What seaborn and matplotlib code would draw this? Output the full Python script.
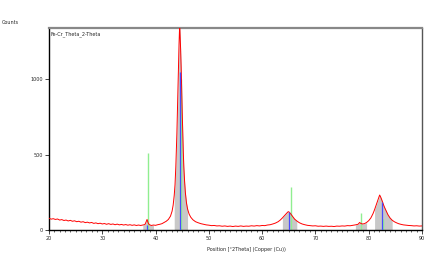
import numpy as np
import pandas as pd
import matplotlib
matplotlib.use("Agg")
import matplotlib.pyplot as plt
from matplotlib.ticker import MultipleLocator
import seaborn as sns

two_theta = [
    20.0, 20.4, 20.8, 21.2, 21.6, 22.0, 22.4, 22.8, 23.2, 23.6, 24.0, 24.4, 24.8, 25.2, 25.6,
    26.0, 26.4, 26.8, 27.2, 27.6, 28.0, 28.4, 28.8, 29.2, 29.6, 30.0, 30.4, 30.8, 31.2, 31.6,
    32.0, 32.4, 32.8, 33.2, 33.6, 34.0, 34.4, 34.8, 35.2, 35.6, 36.0, 36.4, 36.8, 37.2, 37.6,
    38.0, 38.2, 38.4, 38.6, 38.8, 39.2, 39.6, 40.0, 40.4, 40.8, 41.2, 41.6, 42.0, 42.4, 42.8,
    43.1, 43.3, 43.5, 43.65, 43.8, 43.9, 44.0, 44.1, 44.2, 44.3, 44.4, 44.5, 44.55, 44.6, 44.7,
    44.8, 44.9, 45.0, 45.1, 45.2, 45.3, 45.45, 45.6, 45.8, 46.0, 46.3, 46.6, 47.0, 47.5, 48.0,
    48.5, 49.0, 49.5, 50.0, 50.5, 51.0, 51.5, 52.0, 52.5, 53.0, 53.5, 54.0, 54.5, 55.0, 55.5,
    56.0, 56.5, 57.0, 57.5, 58.0, 58.5, 59.0, 59.5, 60.0, 60.5, 61.0, 61.5, 62.0, 62.5, 63.0,
    63.4, 63.8, 64.1, 64.4, 64.7, 64.9, 65.1, 65.3, 65.5, 65.8, 66.1, 66.5, 67.0, 67.5, 68.0,
    68.5, 69.0, 69.5, 70.0, 70.5, 71.0, 71.5, 72.0, 72.5, 73.0, 73.5, 74.0, 74.5, 75.0, 75.5,
    76.0, 76.5, 77.0, 77.5, 78.0, 78.3, 78.5, 78.8, 79.2, 79.6, 80.0, 80.4, 80.8, 81.1, 81.4,
    81.7, 81.9, 82.05, 82.2, 82.4, 82.6, 82.8, 83.0, 83.3, 83.6, 84.0, 84.4, 84.8, 85.2, 85.6,
    86.0, 86.5, 87.0, 87.5, 88.0, 88.5, 89.0, 89.5, 90.0,
]
counts = [
    78, 72, 75, 70, 73, 66, 69, 63, 66, 60, 64, 58, 61, 55, 58,
    52, 55, 49, 52, 47, 50, 44, 47, 42, 45, 40, 43, 38, 42, 37,
    40, 35, 39, 34, 37, 33, 36, 32, 35, 31, 34, 30, 33, 30, 33,
    36, 52, 70, 48, 36, 30, 33, 31, 35, 38, 42, 50, 58, 70, 92,
    125, 165, 230, 300, 420, 520, 640, 780, 930, 1080, 1230, 1340, 1345, 1300, 1200,
    1080, 920, 780, 640, 520, 420, 320, 245, 180, 140, 105, 85, 68, 55, 48,
    42, 38, 34, 32, 29, 30, 27, 28, 25, 27, 24, 26, 23, 26, 24,
    27, 24, 26, 25, 28, 26, 29, 27, 30, 29, 33, 35, 40, 46, 55,
    66, 80, 92, 104, 115, 122, 118, 110, 100, 86, 72, 60, 48, 40, 35,
    31, 29, 27, 28, 25, 26, 24, 26, 24, 25, 23, 26, 25, 27, 26,
    29, 28, 31, 34, 38, 50, 44, 40, 42, 50, 62, 80, 108, 135, 165,
    195, 215, 232, 222, 205, 185, 165, 148, 125, 102, 80, 65, 55, 48, 42,
    38, 34, 32, 30, 29, 27, 28, 26, 27,
]

# fitted peak regions (grey)
peak_start = [37.4, 43.5, 63.5, 77.3, 81.0]
peak_end = [39.9, 46.0, 66.5, 79.7, 84.4]

# fitted peak positions (blue) and reference pattern (green)
fit_pos = [38.3, 44.65, 65.0, 82.4]
fit_height = [35, 1046, 121, 187]
ref_pos = [38.5, 44.75, 65.35, 78.5, 82.75]
ref_height = [510, 1000, 287, 112, 70]

df = pd.DataFrame({"two_theta": two_theta, "counts": counts})

sns.set_style("ticks")
plt.rcParams["font.family"] = ["DejaVu Sans"]

fig = plt.figure(figsize=(4.32, 2.69), dpi=100)
ax = fig.add_axes([49 / 432, 39 / 269, 373 / 432, 202 / 269])

x = df["two_theta"].to_numpy()
y = df["counts"].to_numpy()
for a, b in zip(peak_start, peak_end):
    m = (x >= a) & (x <= b)
    ax.fill_between(x[m], 0, y[m], color="#c8c8c8", lw=0, zorder=1)

ax.vlines(ref_pos, 0, ref_height, color="#90ee90", lw=1.0, zorder=2)
sns.lineplot(data=df, x="two_theta", y="counts", color="red", lw=0.7, ax=ax,
             zorder=3, sort=False)
ax.vlines(fit_pos, 0, fit_height, color="#4a4aff", lw=0.9, zorder=4)

ax.set_xlim(20, 90)
ax.set_ylim(0, 1340)
ax.xaxis.set_major_locator(MultipleLocator(10))
ax.xaxis.set_minor_locator(MultipleLocator(1))
ax.set_yticks([0, 500, 1000])
ax.tick_params(axis="both", which="major", labelsize=3.5, length=3, width=0.6, pad=1.5)
ax.tick_params(axis="x", which="minor", length=1.5, width=0.5)
ax.set_xlabel("")
ax.set_ylabel("")

for side in ["left", "bottom"]:
    ax.spines[side].set_color("black")
    ax.spines[side].set_linewidth(1.0)
ax.spines["top"].set_visible(True)
ax.spines["top"].set_color("#888888")
ax.spines["top"].set_linewidth(1.6)
ax.spines["right"].set_visible(True)
ax.spines["right"].set_color("#555555")
ax.spines["right"].set_linewidth(1.0)

ax.text(0.004, 0.985, "Fe-Cr_Theta_2-Theta", transform=ax.transAxes,
        fontsize=3.5, ha="left", va="top")
fig.text(2 / 432, 1 - 23 / 269, "Counts", fontsize=3.5, ha="left", va="center")
fig.text(246 / 432, 1 - 250 / 269, "Position [°2Theta] (Copper (Cu))",
         fontsize=3.5, ha="center", va="center")

fig.savefig("out.png", dpi=100)
